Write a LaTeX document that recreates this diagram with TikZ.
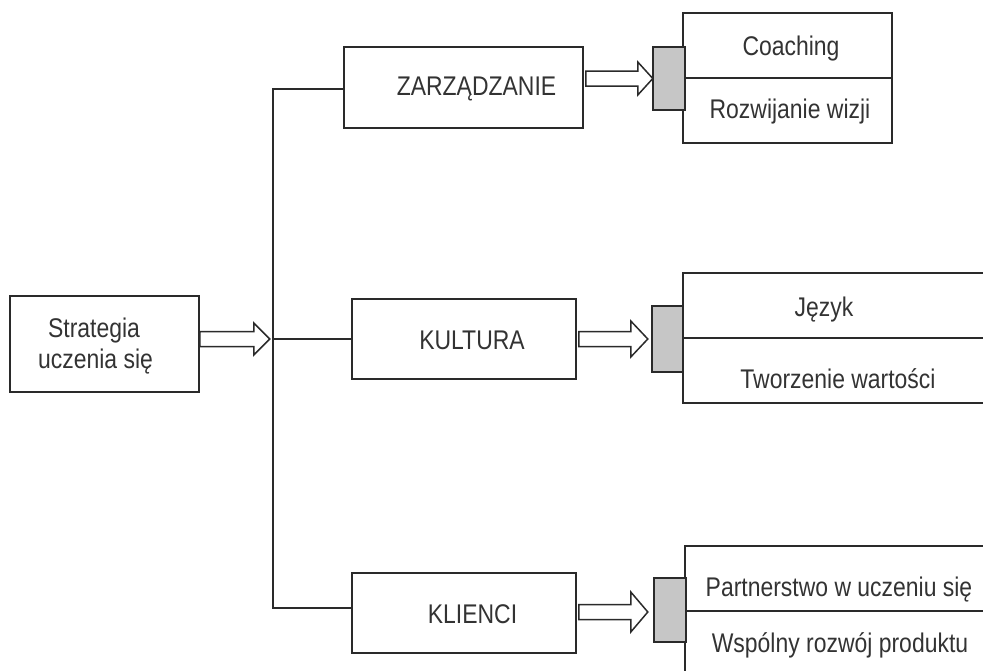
\documentclass[tikz,border=0pt]{standalone}
\usepackage{fontspec}
\setmainfont{Liberation Sans}[FakeStretch=0.85]
\definecolor{ink}{HTML}{2A2A2A}
\definecolor{txt}{HTML}{333333}
\definecolor{boxgrey}{HTML}{C6C6C6}
\newcommand\fatarr[4]{% #1 start, #2 shaft length, #3 head half-width, #4 head length
  \draw[fat] #1 ++(0,-7.5) -- ++(#2,0) -- ++(0,{-(#3-7.5)}) -- ++(#4,#3) -- ++(-#4,#3) -- ++(0,{-(#3-7.5)}) -- ++(-#2,0) -- cycle;}
\begin{document}
\begin{tikzpicture}[x=1pt,y=-1pt,
  box/.style={draw=ink, line width=1.6pt, inner sep=0pt, fill=white},
  lbl/.style={text=txt, font=\fontsize{27}{31}\selectfont, inner sep=0pt, anchor=base},
  fat/.style={draw=ink, line width=1.5pt, fill=white, line join=miter},
  greybox/.style={box, fill=boxgrey},
  wire/.style={draw=ink, line width=1.6pt}]
\useasboundingbox (0,0) rectangle (983,670);

% main boxes
\node[box, minimum width=189pt, minimum height=96pt] (strat) at (104.5,344) {};
\node[box, minimum width=239pt, minimum height=81pt] (zarz) at (463.5,87.5) {};
\node[box, minimum width=224pt, minimum height=80pt] (kult) at (464,339) {};
\node[box, minimum width=224pt, minimum height=80pt] (klie) at (464,613) {};

\node[lbl] (t1) at (94,337) {Strategia};
\node[lbl] (t2) at (95.5,368) {uczenia się};
\node[lbl] (tz) at (476.5,95) {ZARZĄDZANIE};
\node[lbl] (tk) at (472,349) {KULTURA};
\node[lbl] (tl) at (472.5,623) {KLIENCI};

% tree connectors
\coordinate (j) at (273,339);
\coordinate (jtop) at (273,89);
\coordinate (jbot) at (273,608);
\draw[wire] (zarz.west |- jtop) -- (jtop) -- (jbot) -- (klie.west |- jbot);
\draw[wire] (j) -- (kult.west);

% right box 1
\node[box, minimum width=209pt, minimum height=130pt] (r1) at (787.5,78) {};
\draw[wire] (r1.west) -- (r1.east);
\node[lbl] (c1) at (791,55) {Coaching};
\node[lbl] (c2) at (790,118) {Rozwijanie wizji};

% right box 2 (runs off the page)
\coordinate (r2tl) at (683,273);
\coordinate (r2bl) at (683,403);
\coordinate (r2ml) at (683,338);
\draw[wire] (983,273) -- (r2tl) -- (r2bl) -- (983,403);
\draw[wire] (r2ml) -- (983,338);
\node[lbl] (k1) at (824,316) {Język};
\node[lbl] (k2) at (838,388) {Tworzenie wartości};

% right box 3 (runs off the page)
\coordinate (r3tl) at (685,546);
\coordinate (r3ml) at (685,611);
\draw[wire] (983,546) -- (r3tl) -- (685,672);
\draw[wire] (r3ml) -- (983,611);
\node[lbl] (p1) at (839,596) {Partnerstwo w uczeniu się};
\node[lbl] (p2) at (840,652) {Wspólny rozwój produktu};

% grey connector blocks
\node[greybox, minimum width=32pt, minimum height=63pt] (g1) at (669,78.5) {};
\node[greybox, minimum width=31pt, minimum height=66pt] (g2) at (667.5,339) {};
\node[greybox, minimum width=32pt, minimum height=64pt] (g3) at (670,610) {};

% hollow double arrows
\fatarr{([yshift=5pt]strat.east)}{54}{16}{16}
\fatarr{([yshift=9pt,xshift=2pt]zarz.east)}{52}{16.5}{15}
\fatarr{([xshift=2pt]kult.east)}{52}{18}{17}
\fatarr{([xshift=2pt,yshift=1pt]klie.east)}{52}{20}{17}
\end{tikzpicture}
\end{document}
